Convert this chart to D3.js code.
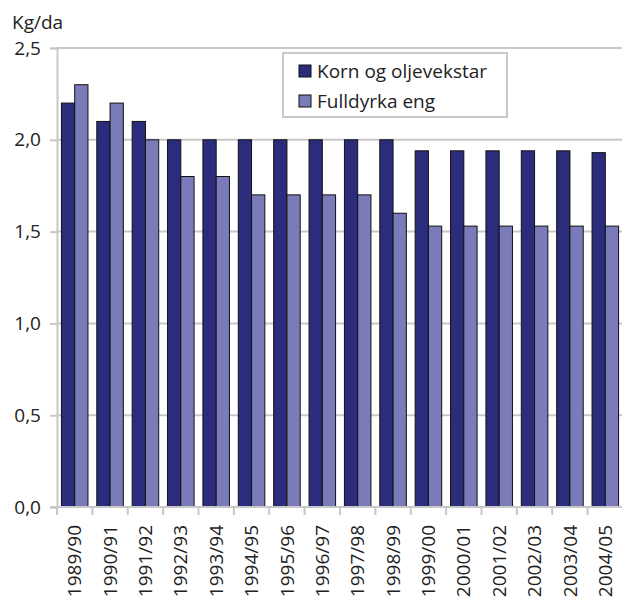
<!DOCTYPE html>
<html>
<head>
<meta charset="utf-8">
<script src="https://cdn.jsdelivr.net/npm/d3@7"></script>
<style>
  body { margin: 0; background: #fff; }
  svg { font-family: "Open Sans", sans-serif; }
</style>
</head>
<body>
<svg></svg>
<script>
var width = 622;
var height = 598;

var seasons = ['1989/90', '1990/91', '1991/92', '1992/93', '1993/94', '1994/95', '1995/96', '1996/97',
               '1997/98', '1998/99', '1999/00', '2000/01', '2001/02', '2002/03', '2003/04', '2004/05'];
var korn = [2.2, 2.1, 2.1, 2.0, 2.0, 2.0, 2.0, 2.0, 2.0, 2.0, 1.94, 1.94, 1.94, 1.94, 1.94, 1.93];
var eng = [2.3, 2.2, 2.0, 1.8, 1.8, 1.7, 1.7, 1.7, 1.7, 1.6, 1.53, 1.53, 1.53, 1.53, 1.53, 1.53];
var seriesNames = ['Korn og oljevekstar', 'Fulldyrka eng'];
var yTicks = [0, 0.5, 1.0, 1.5, 2.0, 2.5];

var colors = ['#2b2d7c', '#7b7bba'];
var plotLeft = 57, plotRight = 623, plotTop = 48, plotBottom = 507;
var fontSize = '19px';

var svg = d3.select('svg')
    .attr('width', width)
    .attr('height', height);

var x0 = d3.scaleBand()
    .domain(seasons)
    .range([plotLeft, plotRight])
    .paddingInner(0.25)
    .paddingOuter(0.125);

var x1 = d3.scaleBand()
    .domain([0, 1])
    .range([0, x0.bandwidth()]);

var y = d3.scaleLinear()
    .domain([0, 2.5])
    .range([plotBottom, plotTop]);

// gridlines
svg.append('g')
    .selectAll('line')
    .data(yTicks.slice(1))
    .enter().append('line')
    .attr('x1', plotLeft)
    .attr('x2', width)
    .attr('y1', d => y(d))
    .attr('y2', d => y(d))
    .attr('stroke', '#c8c8c8')
    .attr('stroke-width', 2);

// y axis
var yAxis = svg.append('g')
    .attr('transform', 'translate(' + plotLeft + ',0)')
    .call(d3.axisLeft(y).tickValues(yTicks).tickSize(7).tickPadding(9)
        .tickFormat(d => d3.format('.1f')(d).replace('.', ',')));
yAxis.select('.domain').attr('stroke', '#c8c8c8').attr('stroke-width', 2);
yAxis.selectAll('.tick line').attr('stroke', '#c8c8c8').attr('stroke-width', 2);
yAxis.selectAll('text')
    .style('font-size', fontSize)
    .style('font-family', '"Open Sans", sans-serif')
    .attr('fill', '#222');

// bars
var groups = svg.append('g')
    .selectAll('g')
    .data(seasons)
    .enter().append('g')
    .attr('transform', d => 'translate(' + x0(d) + ',0)');

groups.selectAll('rect')
    .data((d, i) => [korn[i], eng[i]])
    .enter().append('rect')
    .attr('x', (d, j) => x1(j))
    .attr('width', x1.bandwidth())
    .attr('y', d => y(d))
    .attr('height', d => plotBottom - y(d))
    .attr('fill', (d, j) => colors[j])
    .attr('stroke', '#111')
    .attr('stroke-width', 1);

// x axis
var xAxisG = svg.append('g')
    .attr('transform', 'translate(0,' + plotBottom + ')');
xAxisG.append('line')
    .attr('x1', plotLeft - 7)
    .attr('x2', width)
    .attr('stroke', '#c8c8c8')
    .attr('stroke-width', 2);
xAxisG.selectAll('.sep')
    .data(seasons)
    .enter().append('line')
    .attr('x1', d => x0(d) - x0.step() * x0.paddingInner() / 2)
    .attr('x2', d => x0(d) - x0.step() * x0.paddingInner() / 2)
    .attr('y1', 0)
    .attr('y2', 8)
    .attr('stroke', '#c8c8c8')
    .attr('stroke-width', 2);
xAxisG.selectAll('.lbl')
    .data(seasons)
    .enter().append('text')
    .text(d => d)
    .attr('transform', d => 'translate(' + (x0(d) + x0.bandwidth() / 2) + ',18) rotate(-90)')
    .attr('dy', '0.35em')
    .attr('text-anchor', 'end')
    .style('font-size', fontSize)
    .attr('fill', '#222');

// unit label
svg.append('text')
    .text('Kg/da')
    .attr('x', 12)
    .attr('y', 29)
    .style('font-size', fontSize)
    .attr('fill', '#222');

// legend
var legend = svg.append('g')
    .attr('transform', 'translate(283,53)');
legend.append('rect')
    .attr('width', 224)
    .attr('height', 64)
    .attr('fill', '#fff')
    .attr('stroke', '#c8c8c8')
    .attr('stroke-width', 2);
var item = legend.selectAll('.item')
    .data(seriesNames)
    .enter().append('g')
    .attr('transform', (d, i) => 'translate(16,' + (18 + i * 30) + ')');
item.append('rect')
    .attr('y', -6)
    .attr('width', 12)
    .attr('height', 12)
    .attr('fill', (d, i) => colors[i])
    .attr('stroke', '#111');
item.append('text')
    .text(d => d)
    .attr('x', 18)
    .attr('dy', '0.35em')
    .style('font-size', fontSize)
    .attr('fill', '#222');
</script>
</body>
</html>
